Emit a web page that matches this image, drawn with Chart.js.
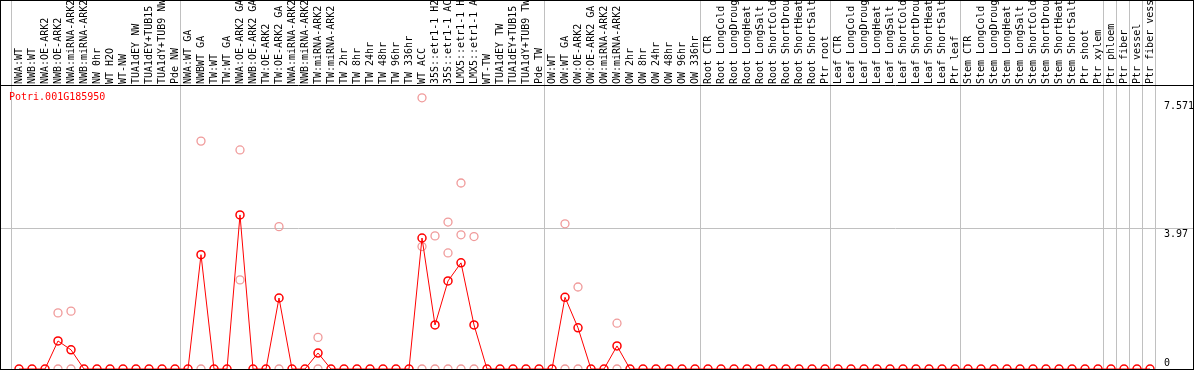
<!DOCTYPE html>
<html>
<head>
<meta charset="utf-8">
<script src="https://cdn.jsdelivr.net/npm/chart.js@4.4.0/dist/chart.umd.min.js"></script>
<style>
	html, body { margin: 0; padding: 0; background: #fff; }
	#chartSection { width: 1194px; height: 370px; }
</style>
</head>
<body>
<div id="chartSection"><canvas id="myChart" width="1194" height="370"></canvas></div>
<script>
var geneId = 'Potri.001G185950';

var samples = [
	'NWA:WT', 'NWB:WT', 'NWA:OE-ARK2', 'NWB:OE-ARK2', 'NWA:miRNA-ARK2', 'NWB:miRNA-ARK2', 'NW 0hr', 'WT H2O', 'WT-NW', 'TUA1dEY NW', 'TUA1dEY+TUB15', 'TUA1dY+TUB9 NW', 'Pde NW',
	'NWA:WT GA', 'NWBWT GA', 'TW:WT', 'TW:WT GA', 'NWA:OE-ARK2 GA', 'NWB:OE-ARK2 GA', 'TW:OE-ARK2', 'TW:OE-ARK2 GA', 'NWA:miRNA-ARK2', 'NWB:miRNA-ARK2', 'TW:miRNA-ARK2', 'TW:miRNA-ARK2',
	'TW 2hr', 'TW 8hr', 'TW 24hr', 'TW 48hr', 'TW 96hr', 'TW 336hr', 'WT ACC', '35S::etr1-1 H2', '35S::etr1-1 AC', 'LMX5::etr1-1 H', 'LMX5::etr1-1 A', 'WT-TW', 'TUA1dEY TW', 'TUA1dEY+TUB15', 'TUA1dY+TUB9 TW', 'Pde TW',
	'OW:WT', 'OW:WT GA', 'OW:OE-ARK2', 'OW:OE-ARK2 GA', 'OW:miRNA-ARK2', 'OW:miRNA-ARK2', 'OW 2hr', 'OW 8hr', 'OW 24hr', 'OW 48hr', 'OW 96hr', 'OW 336hr',
	'Root CTR', 'Root LongCold', 'Root LongDroug', 'Root LongHeat', 'Root LongSalt', 'Root ShortCold', 'Root ShortDrou', 'Root ShortHeat', 'Root ShortSalt', 'Ptr root',
	'Leaf CTR', 'Leaf LongCold', 'Leaf LongDroug', 'Leaf LongHeat', 'Leaf LongSalt', 'Leaf ShortCold', 'Leaf ShortDrou', 'Leaf ShortHeat', 'Leaf ShortSalt', 'Ptr leaf',
	'Stem CTR', 'Stem LongCold', 'Stem LongDroug', 'Stem LongHeat', 'Stem LongSalt', 'Stem ShortCold', 'Stem ShortDrou', 'Stem ShortHeat', 'Stem ShortSalt', 'Ptr shoot', 'Ptr xylem',
	'Ptr phloem', 'Ptr fiber', 'Ptr vessel', 'Ptr fiber vess'
];

// mean expression per sample
var means = [
	0, 0, 0, 0.79, 0.54, 0, 0, 0, 0, 0, 0, 0, 0,
	0, 3.22, 0, 0, 4.34, 0, 0, 2.00, 0, 0, 0.45, 0,
	0, 0, 0, 0, 0, 0, 3.69, 1.24, 2.48, 2.99, 1.24, 0, 0, 0, 0, 0,
	0, 2.02, 1.16, 0, 0, 0.65, 0, 0, 0, 0, 0, 0,
	0, 0, 0, 0, 0, 0, 0, 0, 0, 0,
	0, 0, 0, 0, 0, 0, 0, 0, 0, 0,
	0, 0, 0, 0, 0, 0, 0, 0, 0, 0, 0,
	0, 0, 0, 0
];

// replicate values (null = not shown)
var n = null;
var rep1 = [
	n, n, n, 1.58, 1.63, n, n, n, n, n, n, n, n,
	n, 6.42, n, n, 6.17, n, n, 4.01, n, n, 0.89, n,
	n, n, n, n, n, n, 7.64, 3.75, 4.14, 5.24, 3.73, n, n, n, n, n,
	n, 4.09, 2.31, n, n, 1.29, n, n, n, n, n, n,
	n, n, n, n, n, n, n, n, n, n,
	n, n, n, n, n, n, n, n, n, n,
	n, n, n, n, n, n, n, n, n, n, n,
	n, n, n, n
];
var rep2 = [
	n, n, n, n, n, n, n, n, n, n, n, n, n,
	n, n, n, n, 2.51, n, n, n, n, n, n, n,
	n, n, n, n, n, n, 3.45, n, 3.27, 3.78, n, n, n, n, n, n,
	n, n, n, n, n, n, n, n, n, n, n, n,
	n, n, n, n, n, n, n, n, n, n,
	n, n, n, n, n, n, n, n, n, n,
	n, n, n, n, n, n, n, n, n, n, n,
	n, n, n, n
];
var rep3 = [
	n, n, n, 0, 0, n, n, n, n, n, n, n, n,
	n, 0, n, n, n, n, n, 0, n, n, 0, n,
	n, n, n, n, n, n, 0, 0, 0, 0, 0, n, n, n, n, n,
	n, 0, 0, n, n, 0, n, n, n, n, n, n,
	n, n, n, n, n, n, n, n, n, n,
	n, n, n, n, n, n, n, n, n, n,
	n, n, n, n, n, n, n, n, n, n, n,
	n, n, n, n
];

var yTicks = [0, 3.97, 7.571];
var yMax = 8.0;
// last sample index of each group (separator lines)
var groupEnds = [-1, 12, 40, 52, 62, 72, 83, 84, 85, 86, 87];

var monoFont = { family: 'DejaVu Sans Mono', size: 10 };

var framePlugin = {
	id: 'frame',
	beforeDatasetsDraw: function(chart) {
		var ctx = chart.ctx;
		var sx = chart.scales.x, sy = chart.scales.y;
		ctx.save();
		ctx.strokeStyle = '#c0c0c0';
		ctx.lineWidth = 1;
		ctx.beginPath();
		var gy = Math.round(sy.getPixelForValue(yTicks[1])) + 0.5;
		ctx.moveTo(0, gy);
		ctx.lineTo(chart.width, gy);
		groupEnds.forEach(function(i) {
			var px = Math.round(sx.getPixelForValue(i) + 5) + 0.5;
			ctx.moveTo(px, 0);
			ctx.lineTo(px, chart.chartArea.bottom);
		});
		ctx.stroke();
		ctx.restore();
	},
	afterDatasetsDraw: function(chart) {
		var ctx = chart.ctx;
		var area = chart.chartArea;
		ctx.save();
		ctx.strokeStyle = '#000';
		ctx.lineWidth = 1;
		ctx.strokeRect(0.5, 0.5, chart.width - 1, chart.height - 1);
		ctx.beginPath();
		ctx.moveTo(0, Math.round(area.top) + 0.5);
		ctx.lineTo(chart.width, Math.round(area.top) + 0.5);
		ctx.moveTo(0, Math.round(area.bottom) + 0.5);
		ctx.lineTo(chart.width, Math.round(area.bottom) + 0.5);
		ctx.stroke();
		ctx.fillStyle = '#ff0000';
		ctx.font = '10px "DejaVu Sans Mono"';
		ctx.textBaseline = 'middle';
		ctx.fillText(chart.data.datasets[0].label, 9, area.top + 12);
		ctx.restore();
	}
};

function repSet(values) {
	return {
		label: 'rep',
		data: values,
		showLine: false,
		pointRadius: 4,
		pointHoverRadius: 4,
		pointBorderWidth: 1.3,
		pointBorderColor: '#f09a9a',
		pointBackgroundColor: 'rgba(0,0,0,0)',
		clip: false
	};
}

var ctx = document.getElementById('myChart');
var myChart = new Chart(ctx, {
	type: 'line',
	data: {
		labels: samples,
		datasets: [{
			label: geneId,
			data: means,
			borderColor: '#ff0000',
			borderWidth: 1,
			tension: 0,
			fill: false,
			pointRadius: 4,
			pointHoverRadius: 4,
			pointBorderWidth: 1.5,
			pointBorderColor: '#ff0000',
			pointBackgroundColor: 'rgba(0,0,0,0)',
			clip: false
		},
		repSet(rep1), repSet(rep2), repSet(rep3)]
	},
	options: {
		responsive: false,
		maintainAspectRatio: false,
		animation: false,
		devicePixelRatio: 1,
		layout: { autoPadding: false, padding: { left: 12.5, right: 0, top: 0, bottom: 1 } },
		plugins: { legend: { display: false }, tooltip: { enabled: false } },
		scales: {
			x: {
				position: 'top',
				offset: true,
				grid: { display: false, drawTicks: false },
				border: { display: false },
				ticks: {
					autoSkip: false,
					minRotation: 90,
					maxRotation: 90,
					padding: 1,
					labelOffset: 12.5,
					color: '#000',
					font: monoFont
				},
				afterFit: function(scale) {
					scale.height = 85;
					scale.paddingLeft = 0;
					scale.paddingRight = 0;
				}
			},
			y: {
				position: 'right',
				min: 0,
				max: yMax,
				grid: { display: false, drawTicks: false },
				border: { display: false },
				afterBuildTicks: function(scale) {
					scale.ticks = yTicks.map(function(v) { return { value: v }; });
				},
				ticks: {
					padding: 7.5,
					color: '#000',
					font: monoFont,
					callback: function(v) {
						return v === 0 ? [String(v), ''] : ['', String(v)];
					}
				},
				afterFit: function(scale) {
					scale.width = 37.5;
					scale.paddingTop = 0;
					scale.paddingBottom = 0;
				}
			}
		}
	},
	plugins: [framePlugin]
});
</script>
</body>
</html>
